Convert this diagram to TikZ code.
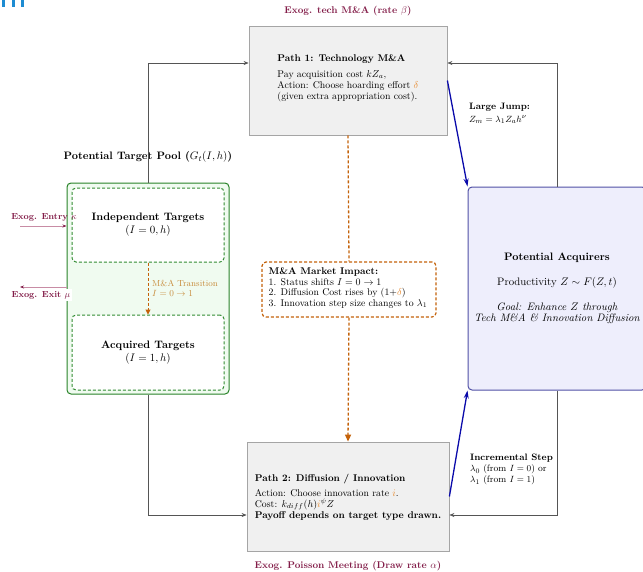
\documentclass[tikz,border=0pt]{standalone}
\usetikzlibrary{arrows.meta}
\definecolor{exo}{RGB}{130,28,72}
\definecolor{exolight}{RGB}{200,140,165}
\definecolor{orgdark}{RGB}{196,98,10}
\definecolor{orgtext}{RGB}{232,140,50}
\definecolor{orgtrans}{RGB}{200,140,60}
\definecolor{poolgreen}{RGB}{40,130,40}
\definecolor{poolfill}{RGB}{240,251,240}
\definecolor{dashgreen}{RGB}{50,140,50}
\definecolor{boxgray}{RGB}{240,240,240}
\definecolor{bordergray}{RGB}{165,165,165}
\definecolor{linegray}{RGB}{85,85,85}
\definecolor{acqfill}{RGB}{238,238,252}
\definecolor{acqborder}{RGB}{80,80,165}
\definecolor{jumpblue}{RGB}{10,10,170}
\definecolor{artblue}{RGB}{30,140,210}
\newcommand\fntbase{\fontsize{9.8}{11}\selectfont}
\newcommand\fntbig{\fontsize{10.8}{13}\selectfont}
\newcommand\fntacq{\fontsize{10.8}{11}\selectfont}
\newcommand\fntsmall{\fontsize{8.8}{10}\selectfont}
\newcommand\fntmid{\fontsize{9.3}{11}\selectfont}
\tikzset{
  pathbox/.style={draw=bordergray, fill=boxgray, line width=0.8pt, inner sep=0pt},
  poolbox/.style={draw=poolgreen, fill=poolfill, line width=1pt, rounded corners=4pt, inner sep=0pt},
  tgtbox/.style={draw=dashgreen, fill=white, line width=1pt, dash pattern=on 3pt off 2pt, rounded corners=4pt, align=center, inner sep=0pt},
  acqbox/.style={draw=acqborder, fill=acqfill, line width=1pt, rounded corners=4pt, align=center, inner sep=0pt},
  impbox/.style={draw=orgdark, fill=white, line width=1.2pt, dash pattern=on 3pt off 2pt, rounded corners=4pt, inner sep=0pt},
  gline/.style={draw=linegray, line width=0.6pt, -{Stealth[length=5pt,width=4pt]}},
  jump/.style={draw=jumpblue, line width=1.3pt, -{Stealth[length=8pt,width=5pt]}},
  impact/.style={draw=orgdark, line width=1.3pt, dash pattern=on 3pt off 2pt, -{Triangle[length=7pt,width=6pt]}},
  impactplain/.style={draw=orgdark, line width=1.3pt, dash pattern=on 3pt off 2pt},
  trans/.style={draw=orgdark, line width=1pt, dash pattern=on 3pt off 2pt, -{Triangle[length=5pt,width=5pt]}},
  exolab/.style={text=exo, font=\fntbase\bfseries},
  exoline/.style={draw=exolight, line width=0.8pt, -{Stealth[length=4pt,width=3pt,color=exo]}},
  txt/.style={align=left, font=\fntbase, inner sep=0pt},
}
\begin{document}
\begin{tikzpicture}[x=1pt,y=-1pt]
\useasboundingbox (0,0) rectangle (643,571);
% cropped artefact at top left
\fill[artblue] (2,0) rectangle (5,7);
\fill[artblue] (12,0) rectangle (15,7);
\fill[artblue] (21,0) rectangle (24,7);

% boxes
\node[pathbox, minimum width=198pt, minimum height=109pt] (p1) at (348,80.5) {};
\node[txt] (p1t) at (348,78) {\textbf{Path 1: Technology M\&A}\\[5pt]
Pay acquisition cost $kZ_a$,\\
Action: Choose hoarding effort \textcolor{orgtext}{$\delta$}\\
(given extra appropriation cost).};

\node[pathbox, minimum width=202pt, minimum height=109pt] (p2) at (348,496.5) {};
\node[txt] (p2t) at (348,497) {\textbf{Path 2: Diffusion / Innovation}\\[4pt]
Action: Choose innovation rate \textcolor{orgtext}{$i$}.\\
Cost: $k_{diff}(h)\textcolor{orgtext}{i}^{\psi}Z$\\
\textbf{Payoff depends on target type drawn.}};

\node[poolbox, minimum width=162pt, minimum height=211pt] (pool) at (148,288.5) {};
\node[tgtbox, minimum width=152pt, minimum height=74pt, font=\fntbig] (indep) at (148,225)
  {\textbf{Independent Targets}\\$(I=0,h)$};
\node[tgtbox, minimum width=152pt, minimum height=75pt, font=\fntbig] (acqt) at (148,352.5)
  {\textbf{Acquired Targets}\\$(I=1,h)$};
\node[font=\fntbig\bfseries] (poollab) at (148,157) {Potential Target Pool ($G_t(I,h)$)};

\node[acqbox, minimum width=178pt, minimum height=203pt] (acq) at (557,288.5) {};
\node[align=center, font=\fntacq, inner sep=0pt] (acqt2) at (557,288.5) {\textbf{Potential Acquirers}\\[14pt]
Productivity $Z\sim F(Z,t)$\\[14pt]
\textit{Goal: Enhance $Z$ through}\\
\textit{Tech M\&A \& Innovation Diffusion}};

% grey connectors
\draw[gline] (pool.north) |- ([yshift=17.5pt]p1.west);
\draw[gline] (acq.north) |- ([yshift=17.5pt]p1.east);
\draw[gline] (pool.south) |- ([yshift=-18.5pt]p2.west);
\draw[gline] (acq.south) |- ([yshift=-18.5pt]p2.east);

% market impact
\node[impbox, minimum width=174pt, minimum height=55pt] (imp) at (349,289.5) {};
\draw[impactplain] (p1.south) -- (imp.north);
\draw[impact] (imp.south) -- (p2.north);
\node[txt, font=\fntbase] (impt) at (348,288) {\textbf{M\&A Market Impact:}\\[-0.5pt]
1. Status shifts $I=0\to1$\\[-0.5pt]
2. Diffusion Cost rises by (1+\textcolor{orgtext}{$\delta$})\\[-0.5pt]
3. Innovation step size changes to $\lambda_1$};

% transition
\draw[trans] (indep.south) -- (acqt.north);
\node[anchor=west, align=left, text=orgtrans, font=\fntsmall, inner sep=0pt] (translab) at (152,288.5)
  {M\&A Transition\\$I=0\to1$};

% blue jumps
\draw[jump] (p1.east) -- (acq.north west);
\draw[jump] (p2.east) -- (acq.south west);
\node[anchor=north west, align=left, font=\fntmid, inner sep=0pt] (largej) at (469,103)
  {\textbf{Large Jump:}\\[1.5pt]$Z_m=\lambda_1 Z_a h^{\nu}$};
\node[anchor=north west, align=left, font=\fntmid, inner sep=0pt] (incj) at (470,454)
  {\textbf{Incremental Step}\\$\lambda_0$ (from $I=0$) or\\$\lambda_1$ (from $I=1$)};

% exogenous labels
\node[exolab] (betal) at (348,11) {Exog. tech M\&A (rate $\beta$)};
\node[exolab] (alphal) at (348,566) {Exog. Poisson Meeting (Draw rate $\alpha$)};
\coordinate (entryS) at (20,226);
\draw[exoline] (entryS) -- (pool.west |- entryS);
\node[exolab, font=\fntsmall\bfseries] (entryl) at (44,217) {Exog. Entry $\kappa$};
\coordinate (exitE) at (20,287);
\draw[exoline] (pool.west |- exitE) -- (exitE);
\node[exolab, font=\fntsmall\bfseries, fill=white, inner sep=2pt] (exitl) at (41,295) {Exog. Exit $\mu$};
\end{tikzpicture}
\end{document}
